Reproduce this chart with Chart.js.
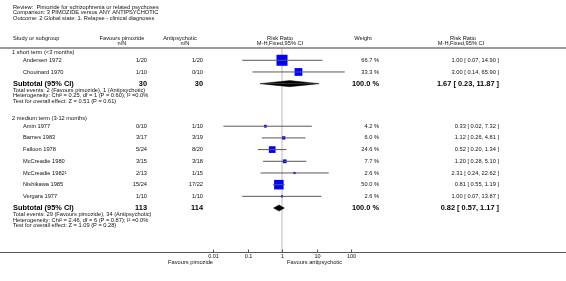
<!DOCTYPE html>
<html>
<head>
<meta charset="utf-8">
<script src="https://cdn.jsdelivr.net/npm/chart.js@4/dist/chart.umd.min.js"></script>
<style>
  html, body { margin: 0; padding: 0; background: #fff; }
  canvas { display: block; }
</style>
</head>
<body>
<canvas id="forest" width="566" height="281"></canvas>
<script>
// ---- data ----
const titleLines = [
  'Review:  Pimozide for schizophrenia or related psychoses',
  'Comparison: 3 PIMOZIDE versus ANY ANTIPSYCHOTIC',
  'Outcome: 2 Global state: 1. Relapse - clinical diagnoses'
];

const groupNames = ['1 short term (<3 months)', '2 medium term (3-12 months)'];

const studyNames = ['Andersen 1972', 'Chouinard 1970', 'Amin 1977', 'Barnes 1983', 'Falloon 1978',
  'McCreadie 1980', 'McCreadie 1982\u00b9', 'Nishikawa 1985', 'Vergara 1977'];
const studyGroup = [0, 0, 1, 1, 1, 1, 1, 1, 1];
const pimozideNN = ['1/20', '1/10', '0/10', '3/17', '5/24', '3/15', '2/13', '15/24', '1/10'];
const antipsychoticNN = ['1/20', '0/10', '1/10', '3/19', '8/20', '3/18', '1/15', '17/22', '1/10'];
const weights = [66.7, 33.3, 4.2, 6.0, 24.6, 7.7, 2.6, 50.0, 2.6];
const riskRatio = [1.00, 3.00, 0.33, 1.12, 0.52, 1.20, 2.31, 0.81, 1.00];
const ciLow = [0.07, 0.14, 0.02, 0.26, 0.20, 0.28, 0.24, 0.55, 0.07];
const ciHigh = [14.90, 65.90, 7.32, 4.81, 1.34, 5.10, 22.62, 1.19, 13.87];

const subPimozideN = [30, 113];
const subAntipsychoticN = [30, 114];
const subRR = [1.67, 0.82];
const subLow = [0.23, 0.57];
const subHigh = [11.87, 1.17];
const groupStats = [
  ['Total events: 2 (Favours pimozide), 1 (Antipsychotic)',
   'Heterogeneity: Chi\u00b2 = 0.25, df = 1 (P = 0.60); I\u00b2 =0.0%',
   'Test for overall effect: Z = 0.51 (P = 0.61)'],
  ['Total events: 29 (Favours pimozide), 34 (Antipsychotic)',
   'Heterogeneity: Chi\u00b2 = 2.46, df = 6 (P = 0.87); I\u00b2 =0.0%',
   'Test for overall effect: Z = 1.09 (P = 0.28)']
];

const axisTicks = [0.01, 0.1, 1, 10, 100];
const axisLabels = ['0.01', '0.1', '1', '10', '100'];

// ---- row layout (in row units from the header rule) ----
const Y_MAX = 17.45;
const headingRow = [];
const studyRow = [];
const subtotalRow = [];
const statsRow = [];
let cur = 0.35;
groupNames.forEach((g, gi) => {
  headingRow.push(cur);
  cur += 0.7;
  studyGroup.forEach((sg, i) => {
    if (sg === gi) { studyRow[i] = cur; cur += 1; }
  });
  subtotalRow.push(cur);
  cur += 0.55;
  const rows = [];
  for (let k = 0; k < 3; k++) { rows.push(cur); cur += 0.47; }
  statsRow.push(rows);
  cur += 0.98;
});

const fmt = (v) => v.toFixed(2);
const rrText = (r, lo, hi) => `${fmt(r)} [ ${fmt(lo)}, ${fmt(hi)} ]`;

// ---- datasets ----
const datasets = [];

datasets.push({
  type: 'scatter',
  showLine: true,
  data: [{ x: 1, y: 0 }, { x: 1, y: Y_MAX }],
  borderColor: '#dcdcdc',
  borderWidth: 2,
  pointRadius: 0,
  order: 10,
});

datasets.push({
  type: 'scatter',
  data: studyNames.map((n, i) => ({ x: riskRatio[i], y: studyRow[i] })),
  pointStyle: 'rect',
  pointRadius: weights.map((w) => (1.35 * Math.sqrt(w)) / Math.SQRT2),
  backgroundColor: '#0000ff',
  borderWidth: 0,
  order: 5,
});

studyNames.forEach((n, i) => {
  datasets.push({
    type: 'scatter',
    showLine: true,
    data: [{ x: ciLow[i], y: studyRow[i] }, { x: ciHigh[i], y: studyRow[i] }],
    borderColor: '#595959',
    borderWidth: 1,
    pointRadius: 0,
    order: 3,
  });
});

subRR.forEach((r, gi) => {
  const yr = subtotalRow[gi];
  const h = 0.26;
  [-h, h].forEach((d) => {
    datasets.push({
      type: 'scatter',
      showLine: true,
      data: [{ x: subLow[gi], y: yr }, { x: r, y: yr + d }, { x: subHigh[gi], y: yr }],
      borderColor: '#000',
      backgroundColor: '#000',
      borderWidth: 0.5,
      pointRadius: 0,
      fill: { value: yr },
      order: 1,
    });
  });
});

// ---- text and axis drawn with the chart's scales ----
const FONT = '"Liberation Sans", Arial, sans-serif';
const font = (size, bold) => (bold ? 'bold ' : '') + size + 'px ' + FONT;

const tablePlugin = {
  id: 'forestTable',
  afterDraw(chart) {
    const ctx = chart.ctx;
    const xs = chart.scales.x;
    const ys = chart.scales.y;
    const py = (r) => ys.getPixelForValue(r);
    const text = (s, x, y, align, f, color) => {
      ctx.font = f;
      ctx.textAlign = align;
      ctx.fillStyle = color || '#111';
      ctx.fillText(s, x, y);
    };
    ctx.save();
    ctx.textBaseline = 'middle';

    const small = font(5.7);
    // title block
    titleLines.forEach((t, i) => {
      text(t, 13, 7 + i * 5.6, 'left', small);
    });

    // column headers
    text('Study or subgroup', 13, 38, 'left', small);
    text('Favours pimozide', 122, 38, 'center', small);
    text('n/N', 122, 43.5, 'center', small);
    text('Antipsychotic', 180, 38, 'center', small);
    text('n/N', 185, 43.5, 'center', small);
    text('Risk Ratio', 280, 38, 'center', small);
    text('M-H,Fixed,95% CI', 280, 43.5, 'center', small);
    text('Weight', 363, 38, 'center', small);
    text('Risk Ratio', 463, 38, 'center', small);
    text('M-H,Fixed,95% CI', 461, 43.5, 'center', small);

    // rules
    ctx.strokeStyle = '#7a7a7a';
    ctx.lineWidth = 1.5;
    ctx.beginPath();
    ctx.moveTo(0, chart.chartArea.top);
    ctx.lineTo(566, chart.chartArea.top);
    ctx.stroke();
    ctx.strokeStyle = '#555';
    ctx.lineWidth = 1;
    const axY = chart.chartArea.bottom + 0.5;
    ctx.beginPath();
    ctx.moveTo(0, axY);
    ctx.lineTo(566, axY);
    ctx.stroke();
    axisTicks.forEach((t, i) => {
      const x = Math.round(xs.getPixelForValue(t)) + 0.5;
      ctx.beginPath();
      ctx.moveTo(x, axY - 3);
      ctx.lineTo(x, axY);
      ctx.stroke();
      text(axisLabels[i], x, axY + 4, 'center', font(5.5));
    });
    text('Favours pimozide', 213, axY + 10, 'right', small);
    text('Favours antipsychotic', 287, axY + 10, 'left', small);

    // groups
    groupNames.forEach((g, gi) => {
      text(g, 12, py(headingRow[gi]), 'left', small);
      studyNames.forEach((n, i) => {
        if (studyGroup[i] !== gi) return;
        const y = py(studyRow[i]);
        text(n, 23, y, 'left', small);
        text(pimozideNN[i], 147, y, 'right', small);
        text(antipsychoticNN[i], 203, y, 'right', small);
        text(weights[i].toFixed(1) + ' %', 379, y, 'right', small);
        text(rrText(riskRatio[i], ciLow[i], ciHigh[i]), 499, y, 'right', small);
      });
      const ys2 = py(subtotalRow[gi]);
      const bold = font(7.4, true);
      text('Subtotal (95% CI)', 13, ys2, 'left', bold, '#000');
      text(String(subPimozideN[gi]), 147, ys2, 'right', bold, '#000');
      text(String(subAntipsychoticN[gi]), 203, ys2, 'right', bold, '#000');
      text('100.0 %', 379, ys2, 'right', bold, '#000');
      text(rrText(subRR[gi], subLow[gi], subHigh[gi]), 499, ys2, 'right', bold, '#000');
      groupStats[gi].forEach((s, k) => {
        text(s, 13, py(statsRow[gi][k]), 'left', small);
      });
    });
    ctx.restore();
  }
};

new Chart(document.getElementById('forest'), {
  type: 'scatter',
  data: { datasets },
  options: {
    responsive: false,
    animation: false,
    devicePixelRatio: 1,
    layout: { padding: { left: 213, right: 215, top: 48, bottom: 29 } },
    plugins: { legend: { display: false }, tooltip: { enabled: false } },
    scales: {
      x: { type: 'logarithmic', min: 0.01, max: 100, display: false },
      y: { type: 'linear', reverse: true, min: 0, max: Y_MAX, display: false }
    },
    elements: { line: { tension: 0 } }
  },
  plugins: [tablePlugin]
});
</script>
</body>
</html>
